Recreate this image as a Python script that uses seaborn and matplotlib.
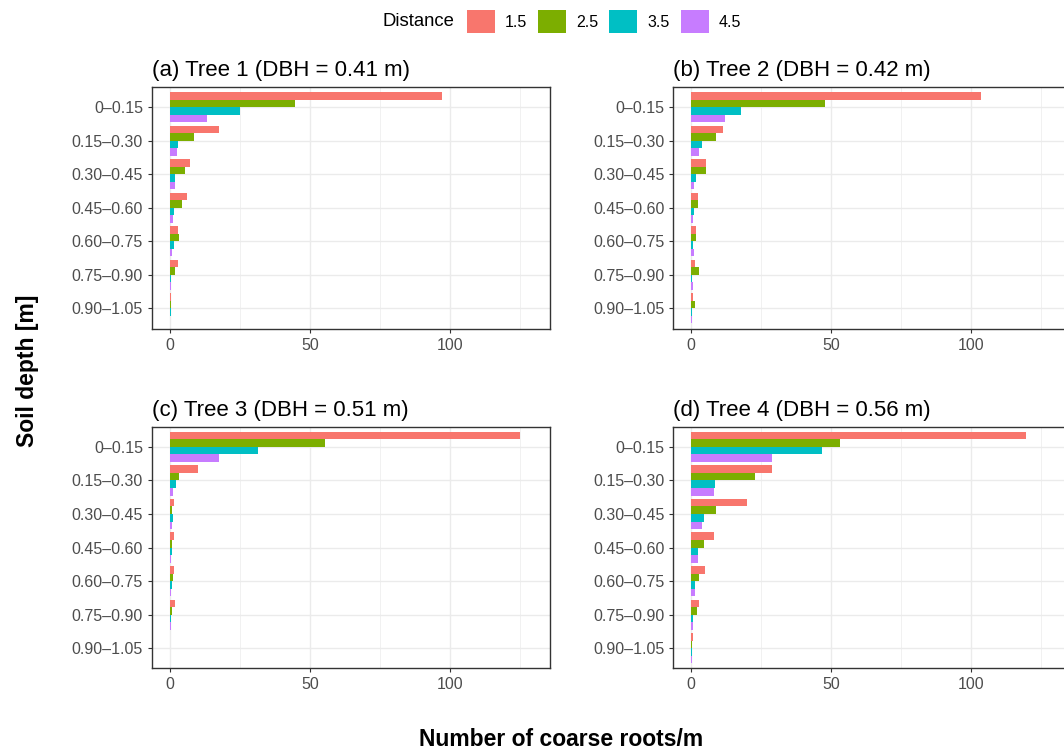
import matplotlib
matplotlib.use("Agg")
import matplotlib.pyplot as plt
import seaborn as sns
import pandas as pd
from matplotlib.patches import Patch
from matplotlib.ticker import MultipleLocator

# ---------------- data ----------------
depths = ["0–0.15", "0.15–0.30", "0.30–0.45", "0.45–0.60",
          "0.60–0.75", "0.75–0.90", "0.90–1.05"]
distances = ["1.5", "2.5", "3.5", "4.5"]
colors = ["#F8766D", "#7CAE00", "#00BFC4", "#C77CFF"]
titles = ["(a) Tree 1 (DBH = 0.41 m)", "(b) Tree 2 (DBH = 0.42 m)",
          "(c) Tree 3 (DBH = 0.51 m)", "(d) Tree 4 (DBH = 0.56 m)"]

tree1_d15 = [97.1, 17.6, 7.3, 6.2, 3.0, 3.0, 0.5]
tree1_d25 = [44.8, 8.5, 5.5, 4.2, 3.3, 1.9, 0.4]
tree1_d35 = [25.1, 2.9, 1.9, 1.5, 1.5, 0.5, 0.5]
tree1_d45 = [13.1, 2.5, 1.9, 1.2, 0.8, 0.5, 0.1]

tree2_d15 = [103.7, 11.2, 5.4, 2.5, 1.8, 1.4, 0.7]
tree2_d25 = [47.9, 8.9, 5.2, 2.5, 1.8, 2.7, 1.4]
tree2_d35 = [17.7, 3.7, 1.7, 1.1, 0.7, 0.2, 0.2]
tree2_d45 = [12.0, 2.7, 1.1, 0.7, 1.1, 0.7, 0.4]

tree3_d15 = [125.1, 10.1, 1.5, 1.5, 1.5, 1.9, 0.1]
tree3_d25 = [55.4, 3.2, 0.8, 0.8, 1.2, 0.8, 0.1]
tree3_d35 = [31.5, 2.3, 1.2, 0.8, 0.8, 0.4, 0.1]
tree3_d45 = [17.6, 1.2, 0.8, 0.5, 0.5, 0.5, 0.1]

tree4_d15 = [119.6, 28.9, 20.0, 8.2, 4.9, 2.9, 0.7]
tree4_d25 = [53.2, 22.7, 9.0, 4.4, 2.9, 2.1, 0.2]
tree4_d35 = [46.8, 8.6, 4.5, 2.5, 1.4, 0.7, 0.2]
tree4_d45 = [28.7, 8.1, 3.7, 2.5, 1.4, 0.7, 0.2]

trees = [
    [tree1_d15, tree1_d25, tree1_d35, tree1_d45],
    [tree2_d15, tree2_d25, tree2_d35, tree2_d45],
    [tree3_d15, tree3_d25, tree3_d35, tree3_d45],
    [tree4_d15, tree4_d25, tree4_d35, tree4_d45],
]

# ---------------- style ----------------
plt.rcParams["font.family"] = ["Liberation Sans", "DejaVu Sans"]
W, H = 1064, 751
fig = plt.figure(figsize=(W / 100, H / 100), dpi=100)

axw = 398 / W
axh = 241.5 / H
lefts = [152 / W, 673.3 / W]
bottoms = [1 - 328.5 / H, 1 - 668.3 / H]
positions = [(lefts[0], bottoms[0]), (lefts[1], bottoms[0]),
             (lefts[0], bottoms[1]), (lefts[1], bottoms[1])]

grid_c = "#EBEBEB"
dark = "#333333"
tick_c = "#4D4D4D"

for i, (vals, title) in enumerate(zip(trees, titles)):
    rows = []
    for dist, series in zip(distances, vals):
        for dep, v in zip(depths, series):
            rows.append({"depth": dep, "Distance": dist, "value": v})
    df = pd.DataFrame(rows)
    x0, y0 = positions[i]
    ax = fig.add_axes([x0, y0, axw, axh])
    ax.set_axisbelow(True)
    sns.barplot(data=df, x="value", y="depth", hue="Distance",
                order=depths, hue_order=distances, palette=colors,
                orient="h", width=0.9, gap=0, saturation=1,
                errorbar=None, legend=False, ax=ax, linewidth=0)
    ax.set_xlim(-6.4, 135.8)
    ax.set_ylim(6.6, -0.6)
    ax.xaxis.set_major_locator(MultipleLocator(50))
    ax.xaxis.set_minor_locator(MultipleLocator(25))
    ax.grid(True, which="major", axis="both", color=grid_c, lw=1.0)
    ax.grid(True, which="minor", axis="x", color=grid_c, lw=0.5)
    ax.set_xlabel("")
    ax.set_ylabel("")
    for sp in ax.spines.values():
        sp.set_color(dark)
        sp.set_linewidth(1.0)
    ax.tick_params(axis="both", which="major", length=3, width=0.8,
                   color=dark, labelcolor=tick_c, labelsize=11.5, pad=3.5)
    ax.tick_params(axis="x", which="minor", length=0)
    ax.set_title(title, loc="left", fontsize=16, pad=8, color="black")

# axis labels
fig.text(28 / W, 1 - 370.5 / H, "Soil depth [m]", rotation=90,
         ha="center", va="center", fontsize=16.5, fontweight="bold")
fig.text(561 / W, 1 - 746 / H, "Number of coarse roots/m",
         ha="center", va="baseline", fontsize=16.5, fontweight="bold")

# legend
fig.text(382 / W, 1 - 21.5 / H, "Distance", ha="left", va="center",
         fontsize=13.3)
handles = [Patch(facecolor=c, edgecolor="none") for c in colors]
fig.legend(handles, distances, loc="center left",
           bbox_to_anchor=(467 / W, 1 - 21.5 / H), ncol=4, frameon=False,
           fontsize=11.5, handlelength=1.75, handleheight=1.75,
           handletextpad=0.62, columnspacing=0.7, borderpad=0,
           borderaxespad=0)

fig.savefig("out.png", dpi=100)
